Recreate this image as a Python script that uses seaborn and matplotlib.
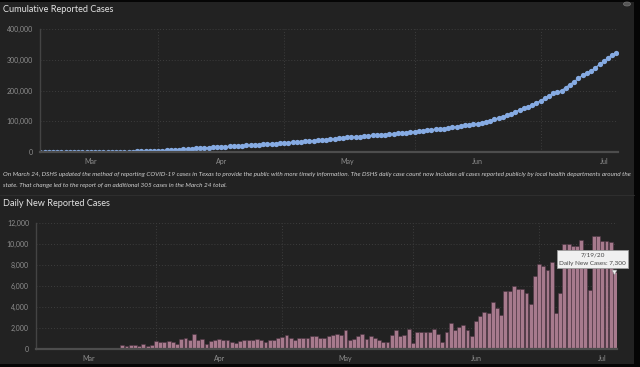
import numpy as np
import pandas as pd
import matplotlib
matplotlib.use("Agg")
import matplotlib.pyplot as plt
import matplotlib.patches as patches
import seaborn as sns

# Datos diarios (4 mar - 19 jul 2020)
fechas = pd.date_range("2020-03-04", "2020-07-19", freq="D")

casos_marzo = [1, 0, 2, 1, 3, 5, 1, 8, 6, 15, 9, 14, 21, 28, 19, 78, 33, 110, 30, 18,
               370, 260, 420, 340, 320, 510, 320, 390]
casos_abril = [740, 680, 670, 790, 700, 470, 990, 1090, 880, 1440,
               890, 930, 430, 720, 860, 950, 900, 890, 660, 540,
               730, 890, 880, 900, 940, 860, 640, 880, 880, 1040]
casos_mayo = [1140, 1290, 1050, 840, 1040, 1040, 1030, 1230, 1240, 1030,
              1020, 1200, 1370, 1460, 1380, 1800, 840, 950, 1240, 1410,
              990, 1220, 1050, 870, 650, 650, 1340, 1840, 1240, 1380, 1940]
casos_junio = [610, 1650, 1650, 1600, 1650, 1910, 1440, 650, 1600, 2450,
               1830, 2050, 2330, 1820, 1250, 2620, 3130, 3520, 3450, 4430,
               3870, 3280, 5490, 5550, 6000, 5710, 5750, 5360, 4290, 6980]
casos_julio = [8080, 7920, 7560, 8260, 3450, 5320, 10030, 9980, 9780, 9770,
               10350, 8200, 5660, 10750, 10790, 10290, 10260, 10160, 7300]

casos_diarios = casos_marzo + casos_abril + casos_mayo + casos_junio + casos_julio

meses = ["Mar", "Apr", "May", "Jun", "Jul"]

nota = ("On March 24, DSHS updated the method of reporting COVID-19 cases in Texas to provide the public "
        "with more timely information. The DSHS daily case count now includes all cases reported publicly "
        "by local health departments around the\nstate. That change led to the report of an additional "
        "305 cases in the March 24 total.")

df = pd.DataFrame({"fecha": fechas, "nuevos": casos_diarios})
df["dia"] = np.arange(len(df))
df["acumulado"] = df["nuevos"].cumsum()

# Posiciones de las marcas: inicio de mes (rejilla) y mitad de mes (etiqueta)
inicio_mes = df.loc[df["fecha"].dt.day == 1, "dia"].tolist()
mitad_mes = df.loc[df["fecha"].dt.day == 16, "dia"].tolist()

# Estilo general
sns.set_theme(style="dark")
plt.rcParams["font.family"] = ["Lato", "DejaVu Sans"]

fondo = "#222222"
gris_txt = "#8e8e8e"
gris_rejilla = "#3d3d3d"

fig = plt.figure(figsize=(6.4, 3.67), dpi=100, facecolor="#050505")
W, H = 640, 367

def caja(x0, y0, x1, y1):
    # convertir píxeles (desde arriba) a fracción de figura
    return [x0 / W, 1 - y1 / H, (x1 - x0) / W, (y1 - y0) / H]

fig.patches.append(patches.Rectangle((0, 1 - 364 / H), 634 / W, 362 / H,
                                     transform=fig.transFigure, fc=fondo, ec="none", zorder=-5))

def estilo_eje(ax, ymax, paso):
    ax.set_facecolor(fondo)
    ax.set_ylim(0, ymax)
    ax.set_yticks(np.arange(0, ymax + 1, paso))
    ax.yaxis.set_major_formatter(matplotlib.ticker.FuncFormatter(lambda v, p: f"{int(v):,}"))
    ax.set_xticks(inicio_mes)
    ax.set_xticklabels([])
    ax.set_xticks(mitad_mes, minor=True)
    ax.set_xticklabels(meses, minor=True)
    ax.tick_params(axis="x", which="major", length=3, color="#4a4a4a", width=1)
    ax.tick_params(axis="x", which="minor", length=0, pad=4, labelsize=5, labelcolor=gris_txt)
    ax.tick_params(axis="y", length=0, pad=5, labelsize=5, labelcolor=gris_txt)
    ax.grid(True, which="major", color=gris_rejilla, linestyle=(0, (1, 2)), linewidth=0.7)
    ax.set_axisbelow(True)
    for lado in ["top", "right"]:
        ax.spines[lado].set_visible(False)
    ax.spines["left"].set_color("#444444")
    ax.spines["left"].set_linewidth(1)
    ax.spines["bottom"].set_color("#4d4d4d")
    ax.spines["bottom"].set_linewidth(1.6)
    ax.set_xlabel("")
    ax.set_ylabel("")

# Gráfica superior: casos acumulados
ax1 = fig.add_axes(caja(40, 29, 618, 152))
sns.lineplot(data=df, x="dia", y="acumulado", color="#86abe3", marker="o",
             markersize=3.8, markeredgewidth=0, linewidth=1, ax=ax1)
ax1.set_xlim(-0.1, 137.4)
estilo_eje(ax1, 400000, 100000)

# Gráfica inferior: casos nuevos diarios
ax2 = fig.add_axes(caja(36, 223, 617, 349))
sns.barplot(data=df, x="dia", y="nuevos", color="#a77a8d", edgecolor="#4a3340",
            linewidth=0.4, width=0.92, saturation=1, ax=ax2)
ax2.set_xlim(-0.5, 137.5)
estilo_eje(ax2, 12000, 2000)

# Títulos y nota
fig.text(3 / W, 1 - 10 / H, "Cumulative Reported Cases", fontsize=6.6, color="#e4e4e4", va="center")
fig.text(3 / W, 1 - 204 / H, "Daily New Reported Cases", fontsize=6.6, color="#e4e4e4", va="center")
fig.text(3 / W, 1 - 180 / H, nota, fontsize=4.6, style="italic", color="#cfcfcf",
         va="center", linespacing=2.5)
fig.add_artist(plt.Line2D([0, 634 / W], [1 - 195 / H] * 2, color="#2e2e2e", linewidth=0.8))

# Tooltip
fig.add_artist(plt.Line2D([614 / W], [1 - 271.5 / H], marker="v", markersize=3.5,
                          color="#f0f0f0", markeredgecolor="#9a9a9a", markeredgewidth=0.4))
fig.text(592.5 / W, 1 - 259 / H, "7/19/20\nDaily New Cases: 7,300", fontsize=4.6, color="#444444",
         ha="center", va="center", multialignment="center", linespacing=1.9,
         bbox=dict(boxstyle="square,pad=0.4", fc="#f0f0f0", ec="#9a9a9a", lw=0.6))

# Icono de expandir
fig.patches.append(patches.Circle((627 / W, 1 - 4 / H), 3.5 / W, transform=fig.transFigure,
                                  fc="#555555", ec="#777777", lw=0.5))

plt.savefig("out.png", dpi=100, facecolor=fig.get_facecolor())
